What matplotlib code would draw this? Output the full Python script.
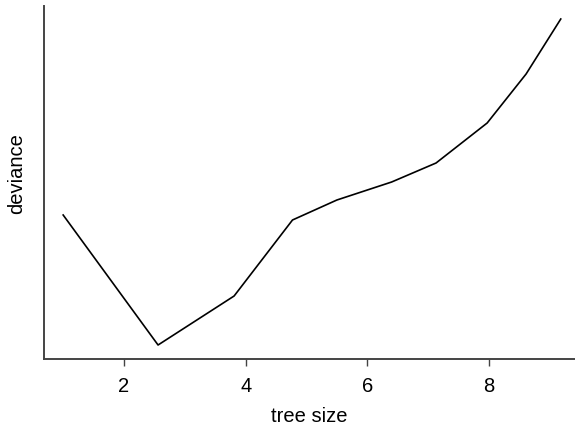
import matplotlib
matplotlib.use("Agg")
import matplotlib.pyplot as plt

tree_size = [1.0, 2.56, 3.81, 4.77, 5.50, 6.40, 7.13, 7.97, 8.61, 9.18]
deviance = [144, 14, 63, 139, 159, 177, 196, 236, 285, 340]
xticks = [2, 4, 6, 8]

plt.rcParams['font.family'] = ['Liberation Sans', 'DejaVu Sans']

fig = plt.figure(figsize=(5.75, 4.25), dpi=100)
ax = fig.add_axes([44/575, (425-359)/425, (575-44)/575, (359-6)/425])
ax.plot(tree_size, deviance, color='black', lw=1.2)
ax.set_xlim(0.685, 9.414)
ax.set_ylim(0, 353)
ax.set_xticks(xticks)
ax.set_xticklabels([str(t) for t in xticks], fontsize=14.5)
ax.set_yticks([])
for s in ['top', 'right']:
    ax.spines[s].set_visible(False)
for s in ['left', 'bottom']:
    ax.spines[s].set_color('#444444')
    ax.spines[s].set_linewidth(1.4)
ax.tick_params(axis='x', length=5, width=1, color='#444444', pad=8)
ax.set_xlabel('tree size', fontsize=14.5, labelpad=8)
ax.set_ylabel('deviance', fontsize=14.5)
ax.yaxis.set_label_coords(-0.034, 0.524)
fig.savefig('out.png', dpi=100)
